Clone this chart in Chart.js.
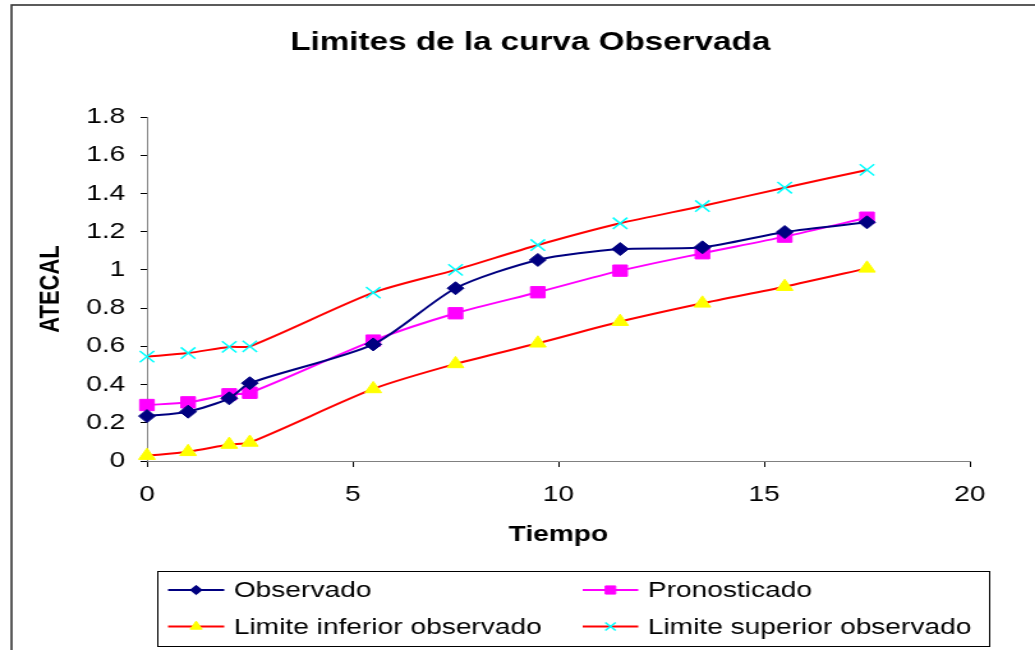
<!DOCTYPE html>
<html>
<head>
<meta charset="utf-8">
<title>Limites de la curva Observada</title>
<script src="https://cdn.jsdelivr.net/npm/chart.js@4.4.1/dist/chart.umd.min.js"></script>
<style>
  html, body { margin: 0; padding: 0; background: #fff; overflow: hidden; }
  #chart { display: block; }
</style>
</head>
<body>
<!-- the original picture is stretched sideways, so the canvas is drawn narrower and scaled up by css -->
<canvas id="chart" width="810" height="650" style="width:1035px;height:650px"></canvas>
<script>
const tiempo = [0, 1, 2, 2.5, 5.5, 7.5, 9.5, 11.5, 13.5, 15.5, 17.5];
const observado = [0.235, 0.258, 0.328, 0.407, 0.61, 0.904, 1.052, 1.109, 1.118, 1.198, 1.249];
const pronosticado = [0.293, 0.307, 0.349, 0.357, 0.63, 0.773, 0.883, 0.996, 1.087, 1.174, 1.273];
const limiteInferior = [0.028, 0.048, 0.086, 0.097, 0.377, 0.508, 0.616, 0.729, 0.825, 0.912, 1.008];
const limiteSuperior = [0.546, 0.565, 0.597, 0.600, 0.881, 1.0, 1.13, 1.244, 1.334, 1.43, 1.523];
const xTicks = [0, 5, 10, 15, 20];
const yTicks = [0, 0.2, 0.4, 0.6, 0.8, 1, 1.2, 1.4, 1.6, 1.8];

const FONT = "'Liberation Sans', Arial, sans-serif";

const toPoints = ys => tiempo.map((t, i) => ({ x: t, y: ys[i] }));

const series = [
  { label: 'Observado', data: observado, line: '#000080', fill: '#000080', style: 'rectRot', radius: 6.5 },
  { label: 'Pronosticado', data: pronosticado, line: '#FF00FF', fill: '#FF00FF', style: 'rect', radius: 8 },
  { label: 'Limite inferior observado', data: limiteInferior, line: '#FF0000', fill: '#FFFF00', style: 'triangle', radius: 7.5 },
  { label: 'Limite superior observado', data: limiteSuperior, line: '#FF0000', fill: '#00FFFF', style: 'crossRot', radius: 8 }
];

// frame, title and the boxed two-column legend, Excel style
const excelDecor = {
  id: 'excelDecor',
  afterDraw(chart) {
    const ctx = chart.ctx;
    ctx.save();
    ctx.strokeStyle = '#333';
    ctx.lineWidth = 1.6;
    ctx.strokeRect(9, 5, chart.width + 20, chart.height + 20);

    ctx.fillStyle = '#000';
    ctx.font = `bold 26px ${FONT}`;
    ctx.textAlign = 'center';
    ctx.textBaseline = 'middle';
    ctx.fillText('Limites de la curva Observada', 415, 43);

    // legend box
    ctx.strokeStyle = '#000';
    ctx.lineWidth = 1;
    ctx.strokeRect(123.5, 571.5, 651, 75);

    const cols = [{ x0: 131.5, x1: 175.5, tx: 183 }, { x0: 456, x1: 499.5, tx: 507 }];
    const rows = [590, 626.5];
    series.forEach((s, i) => {
      const c = cols[i % 2];
      const y = rows[Math.floor(i / 2)];
      ctx.strokeStyle = s.line;
      ctx.lineWidth = 2;
      ctx.beginPath();
      ctx.moveTo(c.x0, y);
      ctx.lineTo(c.x1, y);
      ctx.stroke();
      ctx.fillStyle = s.fill;
      ctx.strokeStyle = s.fill;
      ctx.lineWidth = s.style === 'crossRot' ? 1.5 : 1;
      Chart.helpers.drawPoint(ctx, {
        pointStyle: s.style,
        radius: s.radius * 0.72,
        rotation: 0,
        borderWidth: ctx.lineWidth
      }, (c.x0 + c.x1) / 2, y);
      ctx.fillStyle = '#000';
      ctx.font = `22px ${FONT}`;
      ctx.textAlign = 'left';
      ctx.textBaseline = 'middle';
      ctx.fillText(s.label, c.tx, y + 1);
    });
    ctx.restore();
  }
};

new Chart(document.getElementById('chart'), {
  type: 'line',
  data: {
    datasets: series.map(s => ({
      label: s.label,
      data: toPoints(s.data),
      borderColor: s.line,
      borderWidth: 2,
      tension: 0.25,
      pointStyle: s.style,
      pointRadius: s.radius,
      pointHoverRadius: s.radius,
      pointBackgroundColor: s.fill,
      pointBorderColor: s.fill,
      pointBorderWidth: s.style === 'crossRot' ? 1.5 : 1,
      fill: false,
      clip: false
    }))
  },
  options: {
    responsive: false,
    animation: false,
    devicePixelRatio: 1,
    layout: { padding: { top: 117, left: 12, right: 51, bottom: 94 } },
    plugins: {
      legend: { display: false },
      title: { display: false },
      tooltip: { enabled: false }
    },
    scales: {
      x: {
        type: 'linear',
        min: 0,
        max: 20,
        afterFit: scale => { scale.height = 95; },
        afterBuildTicks: scale => { scale.ticks = xTicks.map(v => ({ value: v })); },
        grid: { drawOnChartArea: false, drawTicks: true, tickLength: 6, color: '#000' },
        border: { color: '#808080', width: 1 },
        ticks: { color: '#000', padding: 15, font: { family: FONT, size: 22 } },
        title: {
          display: true,
          text: 'Tiempo',
          color: '#000',
          font: { family: FONT, size: 22, weight: 'bold' },
          padding: { top: 0, bottom: 8 }
        }
      },
      y: {
        min: 0,
        max: 1.8,
        afterFit: scale => { scale.width = 103; },
        afterBuildTicks: scale => { scale.ticks = yTicks.map(v => ({ value: v })); },
        grid: { drawOnChartArea: false, drawTicks: true, tickLength: 5, color: '#000' },
        border: { color: '#808080', width: 1 },
        ticks: {
          color: '#000',
          padding: 12,
          font: { family: FONT, size: 22 },
          callback: v => String(Math.round(v * 10) / 10)
        },
        title: {
          display: true,
          text: 'ATECAL',
          color: '#000',
          font: { family: FONT, size: 22, weight: 'bold' },
          padding: { top: 15, bottom: 0 }
        }
      }
    }
  },
  plugins: [excelDecor]
});
</script>
</body>
</html>
